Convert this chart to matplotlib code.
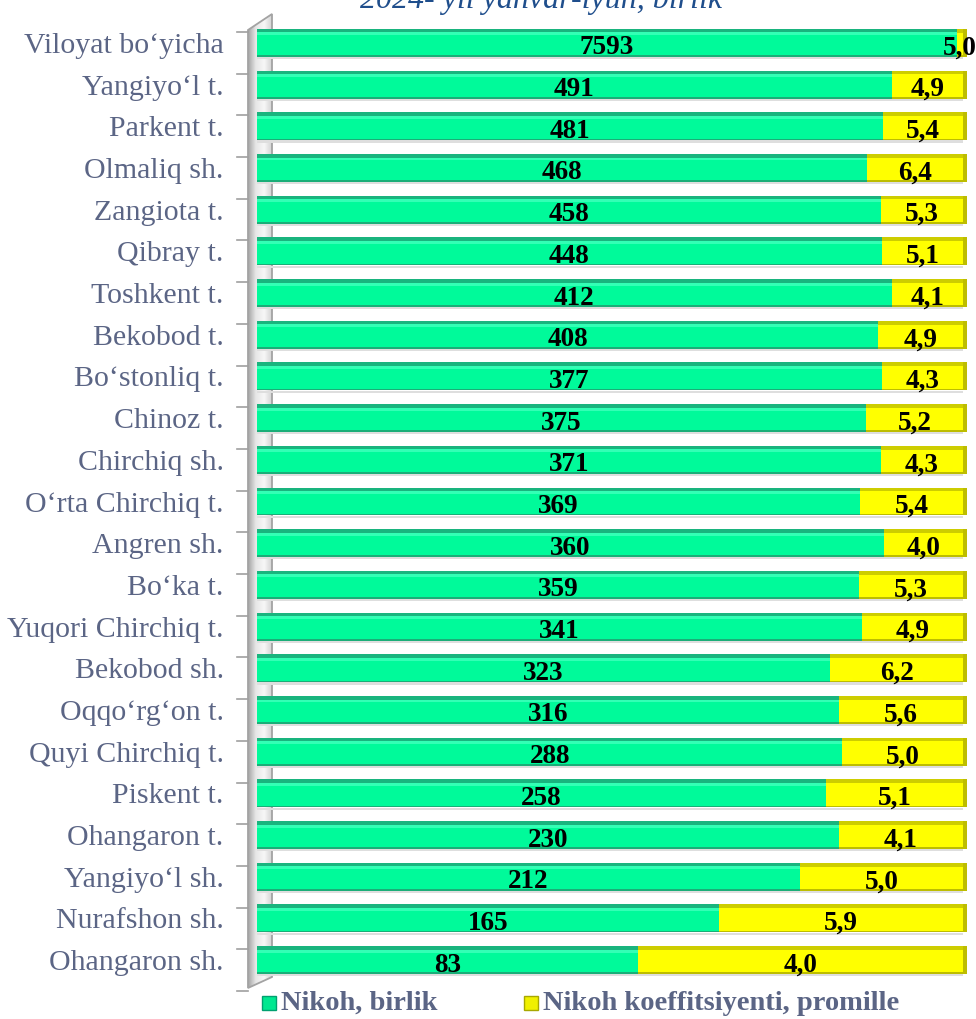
import numpy as np
import matplotlib.pyplot as plt
from matplotlib.patches import Rectangle, Polygon
from matplotlib.colors import LinearSegmentedColormap

regions = ["Viloyat bo‘yicha", "Yangiyo‘l t.", "Parkent t.", "Olmaliq sh.", "Zangiota t.",
           "Qibray t.", "Toshkent t.", "Bekobod t.", "Bo‘stonliq t.", "Chinoz t.",
           "Chirchiq sh.", "O‘rta Chirchiq t.", "Angren sh.", "Bo‘ka t.", "Yuqori Chirchiq t.",
           "Bekobod sh.", "Oqqo‘rg‘on t.", "Quyi Chirchiq t.", "Piskent t.", "Ohangaron t.",
           "Yangiyo‘l sh.", "Nurafshon sh.", "Ohangaron sh."]
marriages = [7593, 491, 481, 468, 458, 448, 412, 408, 377, 375, 371, 369, 360, 359, 341,
             323, 316, 288, 258, 230, 212, 165, 83]
coeff = [5.0, 4.9, 5.4, 6.4, 5.3, 5.1, 4.1, 4.9, 4.3, 5.2, 4.3, 5.4, 4.0, 5.3, 4.9,
         6.2, 5.6, 5.0, 5.1, 4.1, 5.0, 5.9, 4.0]
# share of the green segment in the 100% stacked bar
green_share = [99.1, 89.9, 88.7, 86.4, 88.4, 88.5, 89.9, 88.0, 88.5, 86.3, 88.4, 85.4,
               88.8, 85.3, 85.7, 81.2, 82.4, 82.9, 80.6, 82.4, 76.9, 65.4, 54.0]

title = "2024- yil yanvar-iyun, birlik"
legend_labels = ["Nikoh, birlik", "Nikoh koeffitsiyenti, promille"]

W, H = 976, 1019
SERIF = "Liberation Serif"
label_col = "#5B6585"

def fx(px):
    return px / W

def fy(py):
    return 1 - py / H

fig = plt.figure(figsize=(W / 100, H / 100), dpi=100)

# grey 3D side wall behind the bars
wall = fig.add_axes([fx(247), fy(990), fx(273) - fx(247), fy(12) - fy(990)], zorder=0)
wall.set_xlim(247, 273)
wall.set_ylim(990, 12)
cmap = LinearSegmentedColormap.from_list("wall", ["#9a9a9a", "#e6e6e6", "#f7f7f7", "#cfcfcf"])
im = wall.imshow(np.linspace(0, 1, 60).reshape(1, -1), cmap=cmap,
                 extent=[247, 273, 990, 12], aspect="auto")
poly = Polygon([(248, 30), (272, 14), (272, 977), (248, 988)], closed=True,
               fc="none", ec="#a3a3a3", lw=1.3)
wall.add_patch(poly)
im.set_clip_path(poly)
wall.axis("off")

ax = fig.add_axes([fx(257), fy(981), fx(963) - fx(257), fy(22) - fy(981)], zorder=1)
ax.set_facecolor("none")

y = np.arange(len(regions))
green = np.array(green_share)
yellow = 100 - green
h = 0.67

# soft shadow under every bar
ax.barh(y + h / 2 + 0.03, 100, height=0.05, color="#dedede", zorder=2)
ax.barh(y, green, height=h, color="#00FA9A", zorder=3)
ax.barh(y, yellow, left=green, height=h, color="#FFFF00", zorder=3)
# bevels
ax.barh(y - h / 2 + 0.045, green, height=0.09, color="#19B47E", zorder=4)
ax.barh(y - h / 2 + 0.12, green, height=0.07, color="#33FFB5", zorder=4)
ax.barh(y + h / 2 - 0.02, green, height=0.04, color="#1AAE78", zorder=4)
ax.barh(y - h / 2 + 0.045, yellow, left=green, height=0.09, color="#CDCD00", zorder=4)
ax.barh(y + h / 2 - 0.02, yellow, left=green, height=0.04, color="#BDBD00", zorder=4)
ax.barh(y, 0.6, left=100, height=h, color="#BDBD00", zorder=4, clip_on=False)

for i in range(len(regions)):
    ax.text(green[i] / 2, i + 0.12, str(marriages[i]), ha="center", va="center",
            fontsize=19.5, fontweight="bold", family=SERIF, color="black", zorder=5)
    ax.text(green[i] + yellow[i] / 2, i + 0.12, f"{coeff[i]:.1f}".replace(".", ","),
            ha="center", va="center", fontsize=19.5, fontweight="bold", family=SERIF,
            color="black", zorder=5, clip_on=False)

# small ticks on the wall edge
for k in range(len(regions) + 1):
    ax.plot([-2.83, -1.27], [k - 0.26, k - 0.26], color="#a0a0a0", lw=1.2,
            clip_on=False, zorder=1)

ax.set_xlim(0, 100)
ax.set_ylim(len(regions) - 0.5, -0.5)
ax.set_xticks([])
ax.set_yticks(y, regions)
ax.tick_params(axis="y", length=0, pad=24)
for lab in ax.get_yticklabels():
    lab.set_fontfamily(SERIF)
    lab.set_fontsize(21.5)
    lab.set_color(label_col)
for s in ax.spines.values():
    s.set_visible(False)

# title, mostly cut off by the top edge as in the source
fig.text(fx(541), fy(8), title, ha="center", va="baseline", style="italic",
         fontsize=23, family=SERIF, color="#1F4E8C")

# legend
legend_cols = [("#00E890", "#00A070"), ("#F0F000", "#A8A800")]
legend_x = [262, 524]
for (fc, ec), lx, txt in zip(legend_cols, legend_x, legend_labels):
    fig.patches.append(Rectangle((fx(lx), fy(1010)), fx(14), 14 / H,
                                 transform=fig.transFigure, fc=fc, ec=ec, lw=1))
    fig.text(fx(lx + 19), fy(1003), txt, ha="left", va="center", fontsize=20.5,
             fontweight="bold", family=SERIF, color=label_col)

fig.savefig("out.png", dpi=100)
